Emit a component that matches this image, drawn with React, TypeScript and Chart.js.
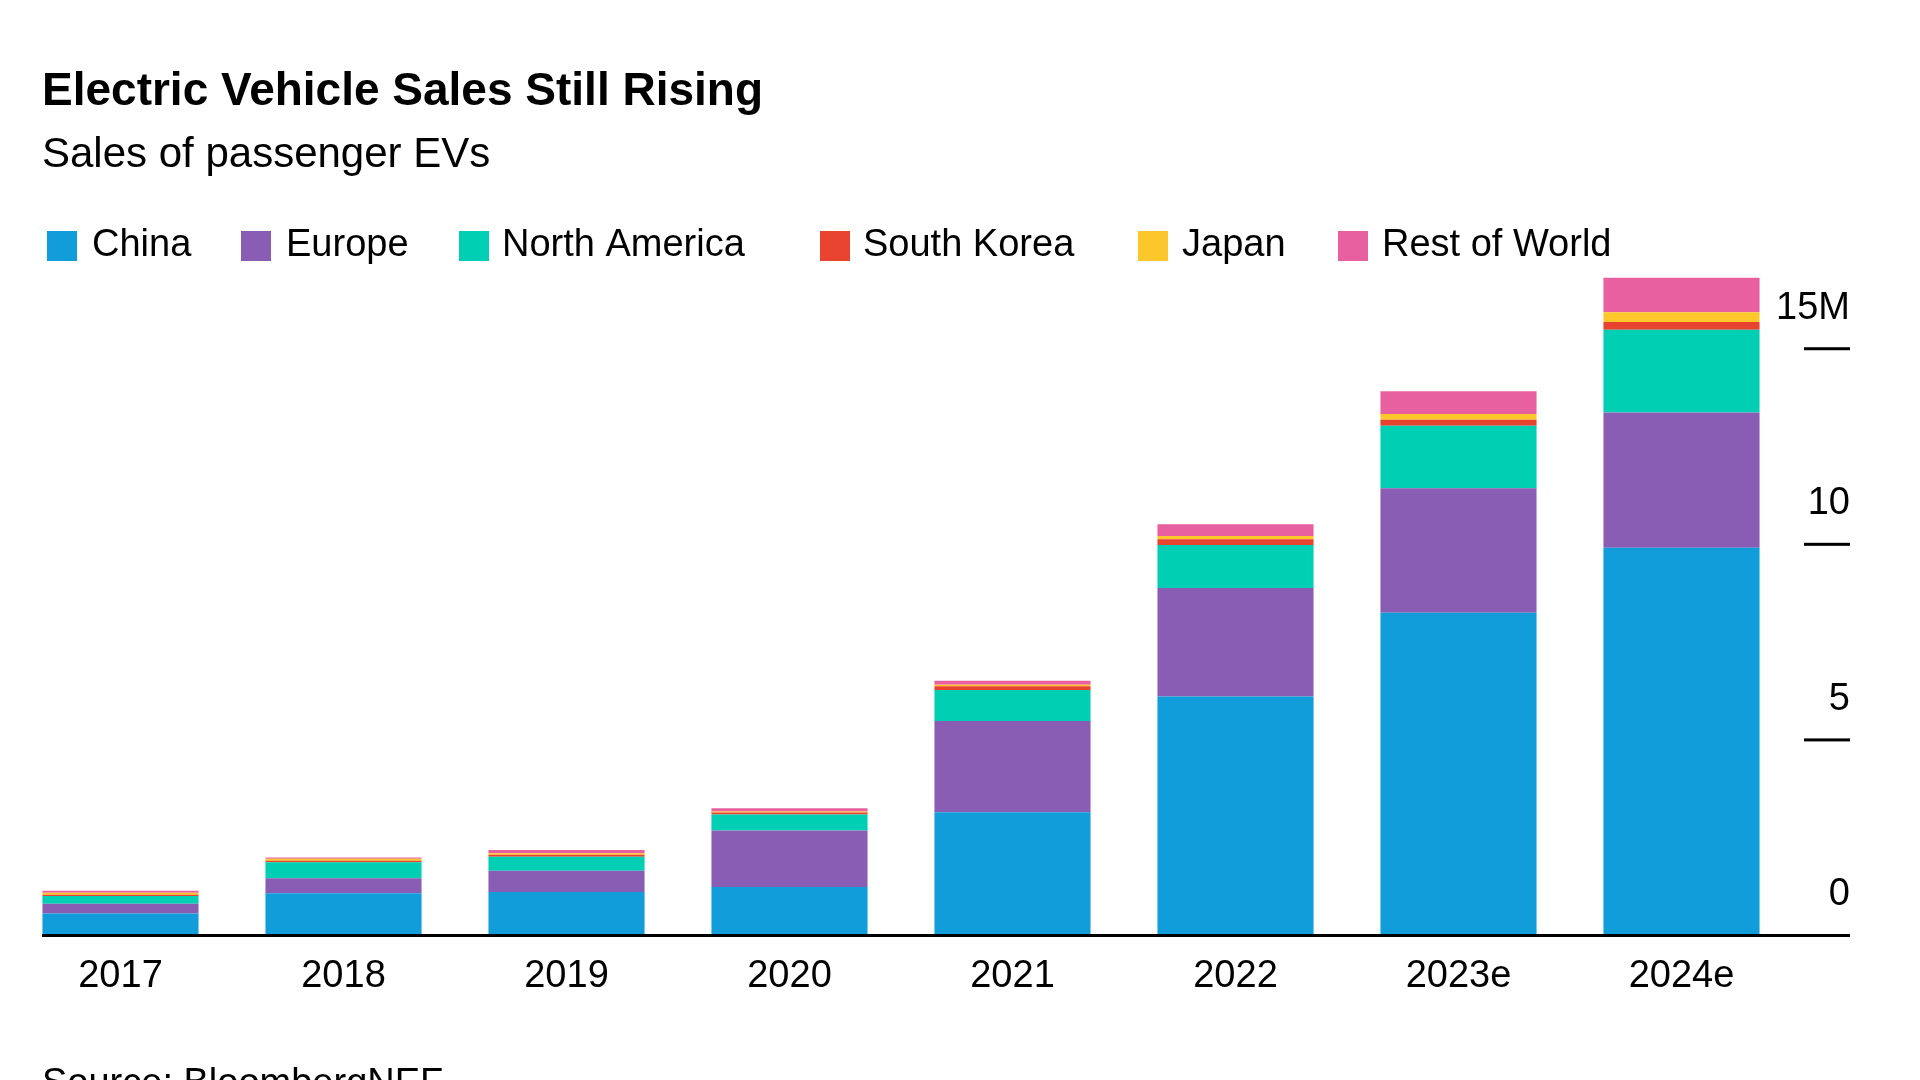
import React, { useEffect, useRef } from "react";
import { Chart, registerables } from "chart.js";
Chart.register(...registerables);

const categories = ["2017", "2018", "2019", "2020", "2021", "2022", "2023e", "2024e"];
const china = [0.55, 1.07, 1.1, 1.23, 3.14, 6.1, 8.24, 9.9];
const europe = [0.25, 0.38, 0.54, 1.44, 2.33, 2.77, 3.18, 3.46];
const northAmerica = [0.2, 0.41, 0.36, 0.41, 0.79, 1.1, 1.6, 2.11];
const southKorea = [0.03, 0.04, 0.05, 0.05, 0.1, 0.15, 0.15, 0.2];
const japan = [0.05, 0.05, 0.04, 0.03, 0.04, 0.08, 0.15, 0.25];
const restOfWorld = [0.05, 0.03, 0.08, 0.08, 0.1, 0.3, 0.58, 0.88];
const seriesNames = ["China", "Europe", "North America", "South Korea", "Japan", "Rest of World"];
const seriesColors = ["#109dda", "#8a5db4", "#00cfb3", "#e8432e", "#fcc72a", "#e8609f"];
const yTicks = [0, 5, 10, 15];
const yTickLabels = ["0", "5", "10", "15M"];

const FONT = "'Liberation Sans', Arial, sans-serif";

export default function App() {
  const ref = useRef<HTMLCanvasElement>(null);
  useEffect(() => {
    const values = [china, europe, northAmerica, southKorea, japan, restOfWorld];
    const deco = {
      id: "deco",
      afterDraw(chart: any) {
        const ctx = chart.ctx;
        const x = chart.scales.x, y = chart.scales.y;
        ctx.save();
        ctx.fillStyle = "#000";
        ctx.textBaseline = "middle";
        ctx.font = `bold 46px ${FONT}`;
        ctx.fillText("Electric Vehicle Sales Still Rising", 42, 92);
        ctx.font = `42px ${FONT}`;
        ctx.fillText("Sales of passenger EVs", 42, 155);
        const sq = [47, 241, 459, 820, 1138, 1338];
        const tx = [92, 286, 502, 863, 1182, 1382];
        ctx.font = `38px ${FONT}`;
        seriesNames.forEach((n, i) => {
          ctx.fillStyle = seriesColors[i];
          ctx.fillRect(sq[i], 231, 30, 30);
          ctx.fillStyle = "#000";
          ctx.fillText(n, tx[i], 246);
        });
        // x labels
        ctx.textAlign = "center";
        categories.forEach((c, i) => {
          ctx.fillText(c, x.getPixelForValue(i), 977);
        });
        // axis line
        const y0 = y.getPixelForValue(0);
        ctx.fillRect(42, y0 - 1, 1808, 3);
        // y ticks
        ctx.textAlign = "right";
        yTicks.forEach((v, i) => {
          const p = y.getPixelForValue(v);
          if (v !== 0) ctx.fillRect(1804, p - 1, 46, 3);
          ctx.fillText(yTickLabels[i], 1850, p - 40);
        });
        ctx.textAlign = "left";
        ctx.textBaseline = "top";
        ctx.fillText("Source: BloombergNEF", 42, 1066);
        ctx.restore();
      },
    };
    const chart = new Chart(ref.current!, {
      type: "bar",
      data: {
        labels: categories,
        datasets: seriesNames.map((n, i) => ({
          label: n,
          data: values[i],
          backgroundColor: seriesColors[i],
          borderWidth: 0,
          categoryPercentage: 0.7,
          barPercentage: 1,
        })),
      },
      options: {
        animation: false,
        responsive: false,
        layout: { padding: { left: 9, right: 127, top: 270, bottom: 145 } },
        plugins: { legend: { display: false }, tooltip: { enabled: false } },
        scales: {
          x: { stacked: true, display: false },
          y: { stacked: true, display: false, min: 0, max: 17 },
        },
      },
      plugins: [deco],
    });
    return () => chart.destroy();
  }, []);
  return (
    <canvas
      ref={ref}
      width={1920}
      height={1080}
      style={{ position: "fixed", left: 0, top: 0, width: 1920, height: 1080, background: "#fff" }}
    />
  );
}
